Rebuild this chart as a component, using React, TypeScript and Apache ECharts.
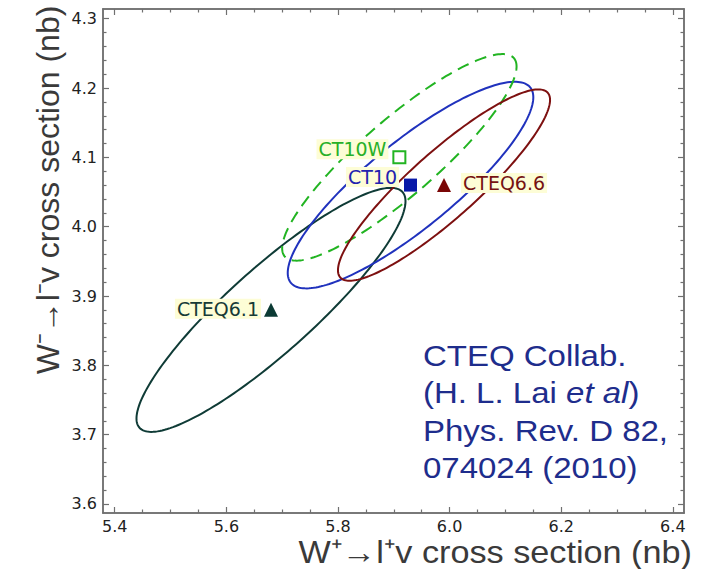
import React, { useEffect, useRef } from 'react';
import * as echarts from 'echarts';

// ---- data ----
const pdfNames = ['CTEQ6.1', 'CT10', 'CT10W', 'CTEQ6.6'];
const wPlusXsec = [5.68, 5.93, 5.91, 5.99]; // nb, W+ -> l+ v
const wMinusXsec = [3.88, 4.06, 4.10, 4.06]; // nb, W- -> l- v
// error-ellipse parameters: half extent in x, half extent in y, correlation
const ellipseHalfX = [0.241, 0.22, 0.21, 0.19];
const ellipseHalfY = [0.176, 0.149, 0.149, 0.138];
const ellipseCorr = [0.89, 0.85, 0.88, 0.89];

const xTickLabels = [5.4, 5.6, 5.8, 6.0, 6.2, 6.4];
const yTickLabels = [3.6, 3.7, 3.8, 3.9, 4.0, 4.1, 4.2, 4.3];
const xSubdivisions = 4;
const ySubdivisions = 5;

const noteLines = ['CTEQ Collab.', '(H. L. Lai {it|et al})', 'Phys. Rev. D 82,', '074024 (2010)'];

// ---- styles ----
const lineColors = ['#0f3b36', '#2032bd', '#22b422', '#7d1010'];
const lineDashes: (number[] | null)[] = [null, null, [12, 7], null];
const markerSymbols = ['triangle', 'rect', 'rect', 'triangle'];
const markerFill = ['#0b3a34', '#0818a8', 'rgba(255,255,255,0)', '#7a0606'];
const markerBorder = ['#0b3a34', '#0818a8', '#22b422', '#7a0606'];
const markerSize = [14, 13, 12, 14];
const labelColors = ['#173a36', '#2222b0', '#28b028', '#761212'];
const labelPos = ['left', 'left', 'left', 'right'];
const labelDist = [3, 5, 4, 10];
const labelOffset = [[0, -1], [0, -8], [0, -8], [0, -2]];

const X_MIN = 5.379, X_MAX = 6.42;
const Y_MIN = 3.587, Y_MAX = 4.314;

function minorTicks(major: number[], sub: number): number[] {
  const out: number[] = [];
  for (let i = 0; i < major.length - 1; i++) {
    const a = major[i], b = major[i + 1];
    for (let k = 1; k < sub; k++) out.push(+(a + ((b - a) * k) / sub).toFixed(4));
  }
  return out;
}

const AXIS_COLOR = '#707070';
const LABEL_FONT = '"DejaVu Sans", sans-serif';

function makeAxis(kind: 'x' | 'y', position: string, ticks: number[], len: number, labels: boolean) {
  const isX = kind === 'x';
  return {
    type: 'value',
    gridIndex: 0,
    position,
    min: isX ? X_MIN : Y_MIN,
    max: isX ? X_MAX : Y_MAX,
    axisLine: { show: true, onZero: false, lineStyle: { color: AXIS_COLOR, width: 1.5 } },
    axisTick: { show: true, inside: true, length: len, customValues: ticks, lineStyle: { color: AXIS_COLOR, width: 1.2 } },
    axisLabel: labels
      ? {
          show: true,
          customValues: ticks,
          formatter: (v: number) => v.toFixed(1),
          color: '#222',
          fontSize: 16,
          fontFamily: LABEL_FONT,
          margin: isX ? 5 : 6,
        }
      : { show: false },
    splitLine: { show: false },
    minorTick: { show: false },
  };
}

export default function App() {
  const ref = useRef<HTMLDivElement>(null);
  useEffect(() => {
    if (!ref.current) return;
    const chart = echarts.init(ref.current, undefined, { renderer: 'svg' });
    const xMinor = minorTicks(xTickLabels, xSubdivisions);
    const yMinor = minorTicks(yTickLabels, ySubdivisions);

    const ellipseSeries = pdfNames.map((name, i) => ({
      type: 'custom',
      name: name + ' ellipse',
      coordinateSystem: 'cartesian2d',
      xAxisIndex: 0,
      yAxisIndex: 0,
      silent: true,
      z: 2,
      encode: { x: 0, y: 1 },
      data: [[wPlusXsec[i], wMinusXsec[i], ellipseHalfX[i], ellipseHalfY[i], ellipseCorr[i]]],
      renderItem: (_p: any, api: any) => {
        const cx = api.value(0), cy = api.value(1), sx = api.value(2), sy = api.value(3), r = api.value(4);
        const s = Math.sqrt(1 - r * r);
        const pts: number[][] = [];
        const n = 200;
        for (let k = 0; k < n; k++) {
          const t = (2 * Math.PI * k) / n;
          pts.push(api.coord([cx + sx * Math.cos(t), cy + sy * (r * Math.cos(t) + s * Math.sin(t))]));
        }
        return {
          type: 'polygon',
          shape: { points: pts },
          style: { fill: 'none', stroke: lineColors[i], lineWidth: 2, lineDash: lineDashes[i] || undefined },
        };
      },
    }));

    const scatter = {
      type: 'scatter',
      xAxisIndex: 0,
      yAxisIndex: 0,
      z: 6,
      silent: true,
      itemStyle: { opacity: 1 },
      data: pdfNames.map((name, i) => ({
        name,
        value: [wPlusXsec[i], wMinusXsec[i]],
        symbol: markerSymbols[i],
        symbolSize: markerSize[i],
        itemStyle: { opacity: 1, color: markerFill[i], borderColor: markerBorder[i], borderWidth: i === 2 ? 2 : 0 },
        label: {
          show: true,
          formatter: name,
          position: labelPos[i],
          distance: labelDist[i],
          offset: labelOffset[i],
          color: labelColors[i],
          opacity: 1,
          fontSize: 19,
          fontFamily: LABEL_FONT,
          backgroundColor: '#fdfdd6',
          padding: [1, 2, 0, 2],
        },
      })),
    };

    const noteY = [356, 393, 430.5, 467.5];
    const noteColor = '#1e2d8c';
    const noteFont = '"Liberation Sans", Arial, sans-serif';

    chart.setOption({
      animation: false,
      backgroundColor: '#ffffff',
      grid: { left: 103, right: 21, top: 9, bottom: 56, containLabel: false, outerBoundsMode: 'none' },
      xAxis: [
        makeAxis('x', 'bottom', xTickLabels, 6, true),
        makeAxis('x', 'bottom', xMinor, 3.5, false),
        makeAxis('x', 'top', xTickLabels, 6, false),
        makeAxis('x', 'top', xMinor, 3.5, false),
      ],
      yAxis: [
        makeAxis('y', 'left', yTickLabels, 6, true),
        makeAxis('y', 'left', yMinor, 3.5, false),
        makeAxis('y', 'right', yTickLabels, 6, false),
        makeAxis('y', 'right', yMinor, 3.5, false),
      ],
      series: [...ellipseSeries, scatter],
      graphic: [
        {
          type: 'text',
          x: 48,
          y: 190,
          rotation: Math.PI / 2,
          silent: true,
          style: {
            text: 'W⁻→l⁻v cross section (nb)',
            fontSize: 32,
            fontFamily: noteFont,
            fill: '#3a3a3a',
            align: 'center',
            textAlign: 'center',
            verticalAlign: 'middle',
            textVerticalAlign: 'middle',
          },
        },
        {
          type: 'text',
          x: 692,
          y: 552,
          scaleX: 1.07,
          silent: true,
          style: {
            text: 'W⁺→l⁺v cross section (nb)',
            fontSize: 32,
            fontFamily: noteFont,
            fill: '#3a3a3a',
            align: 'right',
            textAlign: 'right',
            verticalAlign: 'middle',
            textVerticalAlign: 'middle',
          },
        },
        ...noteLines.map((line, i) => ({
          type: 'text',
          x: 423,
          y: noteY[i],
          scaleX: 1.1,
          silent: true,
          z: 10,
          style: {
            text: line,
            fontSize: 30,
            fontFamily: noteFont,
            fill: noteColor,
            align: 'left',
            textAlign: 'left',
            verticalAlign: 'middle',
            textVerticalAlign: 'middle',
            rich: {
              it: { fontStyle: 'italic', fontSize: 30, fontFamily: noteFont, fill: noteColor, color: noteColor },
            },
          },
        })),
      ],
    });
    return () => chart.dispose();
  }, []);
  return (
    <div
      ref={ref}
      style={{ position: 'fixed', left: 0, top: 0, width: 705, height: 569, background: '#fff' }}
    />
  );
}
